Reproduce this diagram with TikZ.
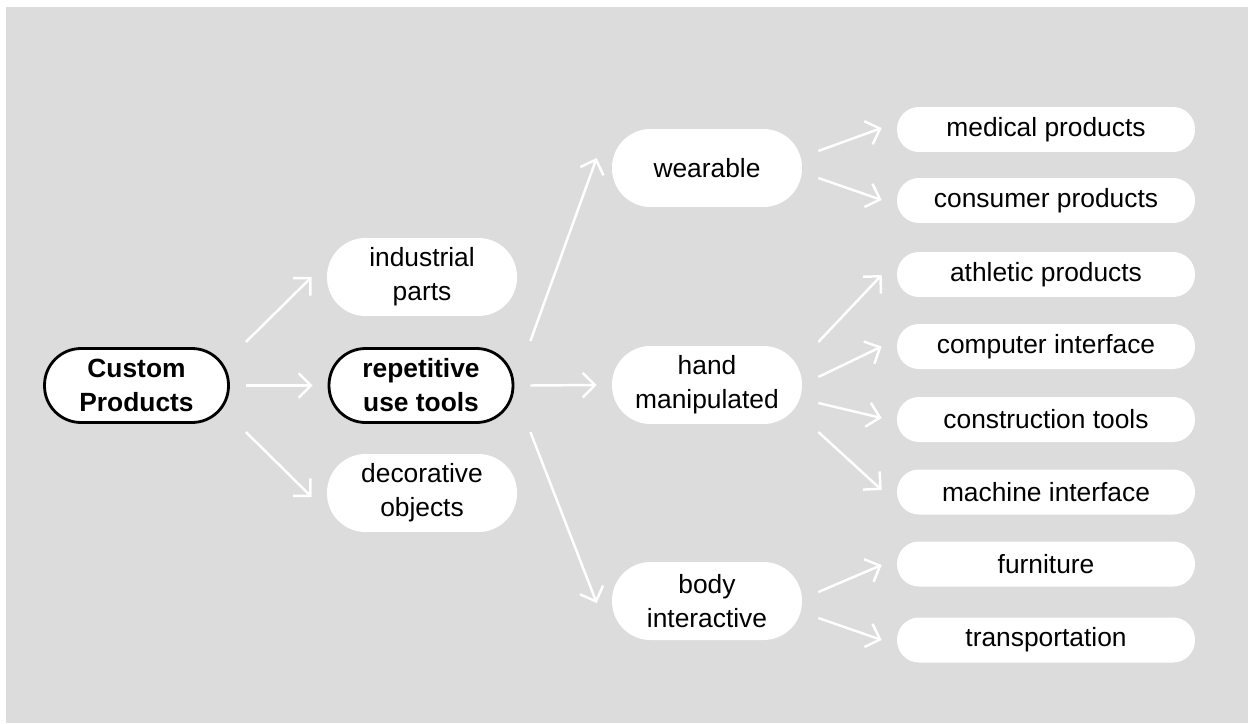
\documentclass[tikz,border=0pt]{standalone}
\usepackage{fontspec}
\setmainfont{Liberation Sans}
\usepackage{xcolor}
\usepackage{tikz}
\usetikzlibrary{arrows.meta}
\usetikzlibrary{calc}
\definecolor{bggray}{RGB}{220,220,220}

\begin{document}
\begin{tikzpicture}[x=0.02cm,y=-0.02cm,
  pill/.style={fill=white, rounded corners=0.77cm, minimum width=3.8cm, minimum height=1.56cm,
    align=center, inner sep=0pt, font=\fontsize{15}{19.3}\selectfont},
  mainpill/.style={pill, draw=black, line width=1.6pt, rounded corners=0.73cm, minimum width=3.68cm,
    minimum height=1.48cm, font=\fontsize{15}{19.3}\selectfont\bfseries},
  leaf/.style={pill, rounded corners=0.44cm, minimum width=5.96cm, minimum height=0.9cm},
  arr/.style={white, line width=1.4pt, -{Straight Barb[length=7pt,width=14pt]}}]
\useasboundingbox (0,0) rectangle (1253,723);
\fill[bggray] (6,7) rectangle (1248,723);

\node[mainpill] (cp) at (136.5,385.5) {Custom\\Products};
\node[pill] (ip) at (422,277) {industrial\\parts};
\node[mainpill] (rt) at (421,385.5) {repetitive\\use tools};
\node[pill] (dp) at (422,493) {decorative\\objects};
\node[pill] (we) at (707,168) {wearable};
\node[pill] (hm) at (707,385) {hand\\manipulated};
\node[pill] (bi) at (707,601) {body\\interactive};
\foreach \n/\y/\t in {mp/129.5/medical products, cs/200.5/consumer products,
  ap/274.5/athletic products, ci/346.5/computer interface, ct/419.5/construction tools,
  mi/492/machine interface, fu/564/furniture, tr/640/transportation}
\node[leaf] (\n) at (1046,\y) {\t};

\foreach \a/\ay/\b/\by in {cp/-43.5/ip/0, cp/0/rt/0, cp/46.5/dp/4,
  rt/-44.5/we/-10, rt/0/hm/0, rt/46.5/bi/2,
  we/-17/mp/-1.5, we/10/cs/-0.5,
  hm/-43/ap/0.5, hm/-8/ci/0, hm/18/ct/-1.5, hm/47/mi/-2,
  bi/-9/fu/1, bi/17/tr/0}
\draw[arr] ($(\a.east)+(16,\ay)$) -- ($(\b.west)+(-15,\by)$);
\end{tikzpicture}
\end{document}
